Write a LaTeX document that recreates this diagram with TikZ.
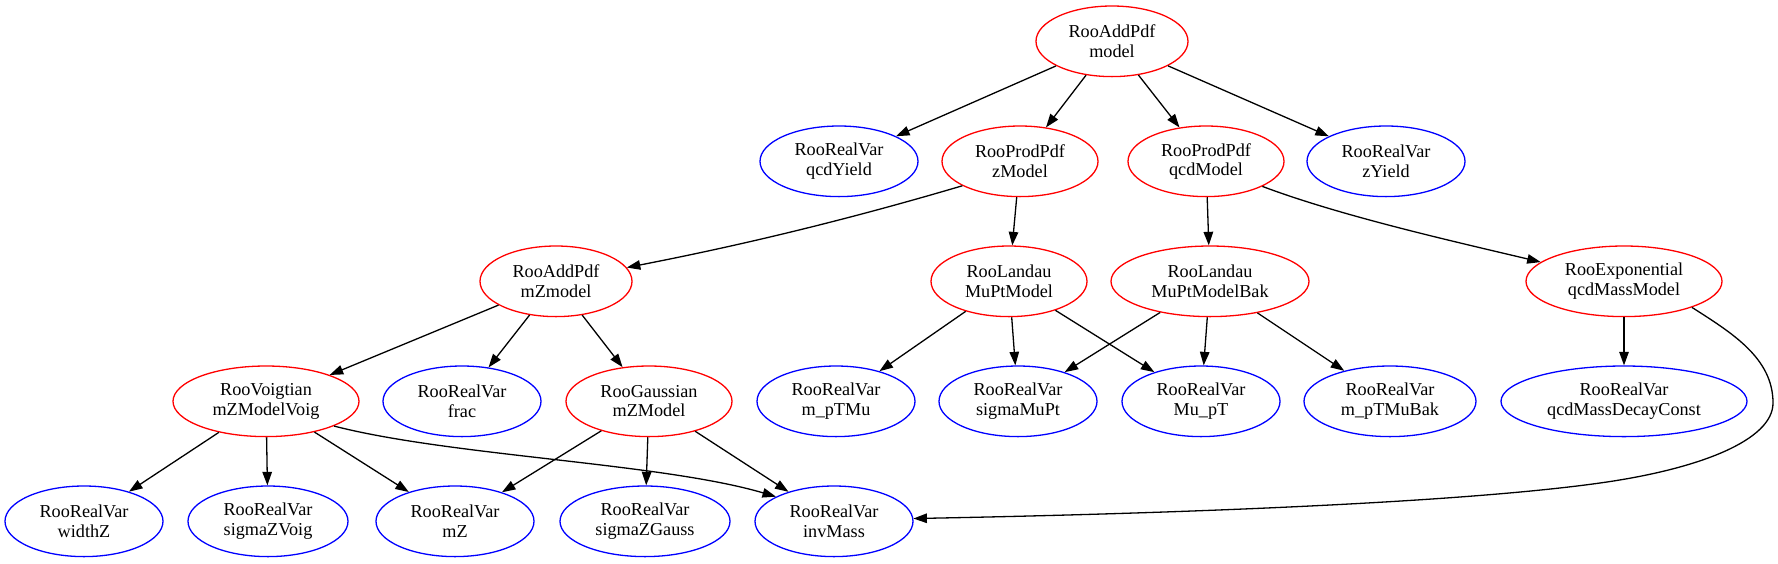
\documentclass[tikz,border=0pt]{standalone}
\usepackage{fontspec}
\setmainfont{Liberation Serif}
\usetikzlibrary{shapes.geometric,arrows.meta}
\begin{document}
\begin{tikzpicture}[x=1pt,y=-1pt,
  every node/.style={ellipse, draw, line width=1.3pt, inner sep=0pt, minimum height=70.6pt, align=center, font=\fontsize{18.2pt}{19.5pt}\selectfont},
  pdfnode/.style={draw=red},
  varnode/.style={draw=blue},
  conn/.style={line width=1.3pt, -{Triangle[length=13.5pt,width=9.5pt]}}]
\useasboundingbox (0,0) rectangle (1778,563);
% row 1
\node[pdfnode, minimum width=152pt] (model) at (1112,41.3) {RooAddPdf\\model};
% row 2
\node[varnode, minimum width=158pt] (qcdYield) at (839,161.3) {RooRealVar\\qcdYield};
\node[pdfnode, minimum width=156pt] (zModel) at (1020,161.3) {RooProdPdf\\zModel};
\node[pdfnode, minimum width=156pt] (qcdModel) at (1206,161.3) {RooProdPdf\\qcdModel};
\node[varnode, minimum width=158pt] (zYield) at (1386,161.3) {RooRealVar\\zYield};
% row 3
\node[pdfnode, minimum width=152pt] (mZmodel) at (556,281.3) {RooAddPdf\\mZmodel};
\node[pdfnode, minimum width=156pt] (MuPtModel) at (1009,281.3) {RooLandau\\MuPtModel};
\node[pdfnode, minimum width=198pt] (MuPtModelBak) at (1210,281.3) {RooLandau\\MuPtModelBak};
\node[pdfnode, minimum width=196pt] (qcdMassModel) at (1624,281.3) {RooExponential\\qcdMassModel};
% row 4
\node[pdfnode, minimum width=186pt] (voig) at (266,401.3) {RooVoigtian\\mZModelVoig};
\node[varnode, minimum width=158pt] (frac) at (462,401.3) {RooRealVar\\frac};
\node[pdfnode, minimum width=166pt] (gauss) at (649,401.3) {RooGaussian\\mZModel};
\node[varnode, minimum width=158pt] (mpTMu) at (836,401.3) {RooRealVar\\m\_pTMu};
\node[varnode, minimum width=158pt] (sigmaMuPt) at (1018,401.3) {RooRealVar\\sigmaMuPt};
\node[varnode, minimum width=158pt] (MupT) at (1201,401.3) {RooRealVar\\Mu\_pT};
\node[varnode, minimum width=172pt] (mpTMuBak) at (1390,401.3) {RooRealVar\\m\_pTMuBak};
\node[varnode, minimum width=246pt] (decay) at (1624,401.3) {RooRealVar\\qcdMassDecayConst};
% row 5
\node[varnode, minimum width=158pt] (widthZ) at (84,521.3) {RooRealVar\\widthZ};
\node[varnode, minimum width=160pt] (sigmaZVoig) at (268,521.3) {RooRealVar\\sigmaZVoig};
\node[varnode, minimum width=158pt] (mZ) at (455,521.3) {RooRealVar\\mZ};
\node[varnode, minimum width=170pt] (sigmaZGauss) at (645,521.3) {RooRealVar\\sigmaZGauss};
\node[varnode, minimum width=158pt] (invMass) at (834,521.3) {RooRealVar\\invMass};
% edges
\draw[conn] (model) -- (qcdYield);
\draw[conn] (model) -- (zModel);
\draw[conn] (model) -- (qcdModel);
\draw[conn] (model) -- (zYield);
\draw[conn] (zModel.-157) .. controls (833,224) and (727,248) .. (mZmodel.11);
\draw[conn] (zModel) -- (MuPtModel);
\draw[conn] (qcdModel) -- (MuPtModelBak);
\draw[conn] (qcdModel.-24) .. controls (1341,216) and (1452,241) .. (qcdMassModel.167);
\draw[conn] (mZmodel) -- (voig);
\draw[conn] (mZmodel) -- (frac);
\draw[conn] (mZmodel) -- (gauss);
\draw[conn] (MuPtModel) -- (mpTMu);
\draw[conn] (MuPtModel) -- (sigmaMuPt);
\draw[conn] (MuPtModel) -- (MupT);
\draw[conn] (MuPtModelBak) -- (sigmaMuPt);
\draw[conn] (MuPtModelBak) -- (MupT);
\draw[conn] (MuPtModelBak) -- (mpTMuBak);
\draw[conn] (qcdMassModel) -- (decay);
\draw[conn] (qcdMassModel.-21) .. controls (1732,333) and (1773,358) .. (1773,403)
  .. controls (1773,440) and (1700,469) .. (1600,483)
  .. controls (1450,504) and (1150,514) .. (invMass.2);
\draw[conn] (voig) -- (widthZ);
\draw[conn] (voig) -- (sigmaZVoig);
\draw[conn] (voig) -- (mZ);
\draw[conn] (voig.-20) .. controls (450,456) and (662,463) .. (invMass.157);
\draw[conn] (gauss) -- (mZ);
\draw[conn] (gauss) -- (sigmaZGauss);
\draw[conn] (gauss) -- (invMass);
\end{tikzpicture}
\end{document}
